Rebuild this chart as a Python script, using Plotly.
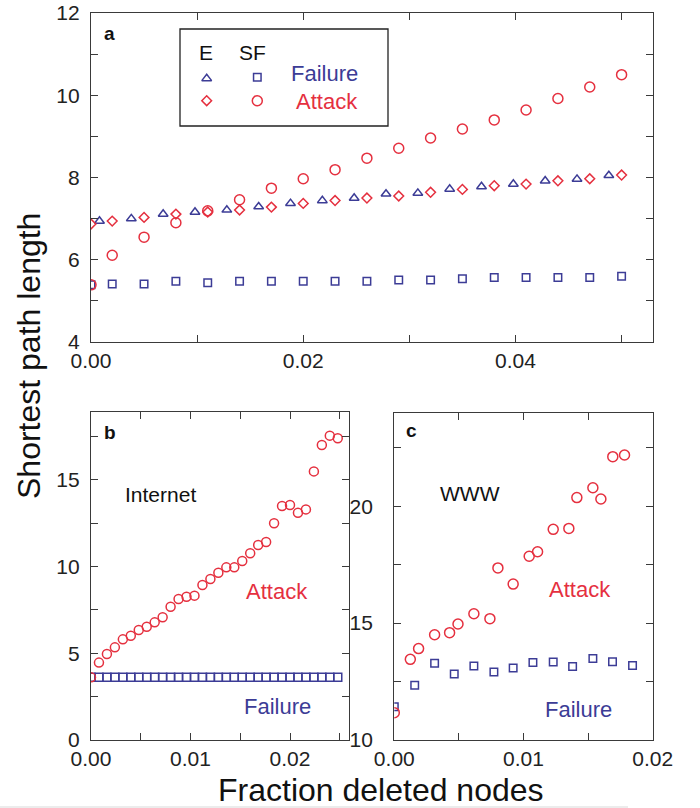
import plotly.graph_objects as go

W, H = 700, 808

# ---------------- data ----------------
# Panel a (E = exponential, SF = scale-free)
a_x = [0.000, 0.002, 0.005, 0.008, 0.011, 0.014, 0.017, 0.020, 0.023,
       0.026, 0.029, 0.032, 0.035, 0.038, 0.041, 0.044, 0.047, 0.050]
a_sf_failure = [5.39, 5.41, 5.41, 5.48, 5.44, 5.48, 5.48, 5.48, 5.48,
                5.48, 5.51, 5.51, 5.54, 5.57, 5.57, 5.57, 5.57, 5.60]
a_sf_attack = [5.39, 6.11, 6.55, 6.90, 7.19, 7.46, 7.74, 7.97, 8.19,
               8.47, 8.71, 8.96, 9.18, 9.40, 9.64, 9.92, 10.20, 10.50]
a_e_attack = [6.87, 6.94, 7.03, 7.11, 7.16, 7.21, 7.28, 7.37, 7.44,
              7.50, 7.55, 7.64, 7.71, 7.80, 7.84, 7.92, 7.97, 8.06]
a_e_fail_x = [0.0008, 0.0038, 0.0068, 0.0098, 0.0128, 0.0158, 0.0188, 0.0218, 0.0248,
              0.0278, 0.0308, 0.0338, 0.0368, 0.0398, 0.0428, 0.0458, 0.0488]
a_e_failure = [6.94, 7.00, 7.11, 7.16, 7.21, 7.29, 7.37, 7.44, 7.50,
               7.60, 7.62, 7.72, 7.78, 7.84, 7.92, 7.96, 8.05]

# Panel b (Internet)
b_x = [0.0000, 0.0008, 0.0016, 0.0024, 0.0032, 0.0040, 0.0048, 0.0056,
       0.0064, 0.0072, 0.0080, 0.0088, 0.0096, 0.0104, 0.0112, 0.0120,
       0.0128, 0.0136, 0.0144, 0.0152, 0.0160, 0.0168, 0.0176, 0.0184,
       0.0192, 0.0200, 0.0208, 0.0216, 0.0224, 0.0232, 0.0240, 0.0248]
b_attack = [3.61, 4.46, 4.96, 5.34, 5.80, 6.01, 6.34, 6.53,
            6.78, 7.07, 7.68, 8.13, 8.26, 8.32, 8.93, 9.28,
            9.64, 9.95, 9.95, 10.32, 10.76, 11.24, 11.41, 12.49,
            13.49, 13.54, 13.10, 13.29, 15.48, 17.00, 17.54, 17.39]
b_failure = [3.61, 3.61, 3.61, 3.61, 3.61, 3.61, 3.61, 3.61,
             3.61, 3.61, 3.61, 3.61, 3.61, 3.61, 3.61, 3.61,
             3.61, 3.61, 3.61, 3.61, 3.61, 3.61, 3.61, 3.61,
             3.61, 3.61, 3.61, 3.61, 3.61, 3.61, 3.61, 3.61]

# Panel c (WWW)
c_attack_x = [0.0000, 0.00124, 0.00188, 0.00312, 0.00428, 0.00493, 0.00616, 0.0074,
              0.00802, 0.0092, 0.01044, 0.01109, 0.0123, 0.01351, 0.01413, 0.01537,
              0.01599, 0.01691, 0.01782]
c_attack = [11.17, 13.45, 13.91, 14.50, 14.59, 14.96, 15.40, 15.19,
            17.36, 16.67, 17.86, 18.05, 19.01, 19.05, 20.37, 20.79,
            20.31, 22.12, 22.19]
c_failure_x = [0.0000, 0.00158, 0.00312, 0.00464, 0.00616, 0.00771, 0.0092,
               0.01073, 0.0123, 0.0138, 0.01537, 0.01689, 0.01844]
c_failure = [11.42, 12.34, 13.28, 12.82, 13.17, 12.91, 13.08,
             13.31, 13.34, 13.14, 13.49, 13.35, 13.19]

# tick labels
a_xticks = [0.00, 0.01, 0.02, 0.03, 0.04, 0.05]
a_xticktext = ["0.00", "", "0.02", "", "0.04", ""]
a_yticks = [4, 5, 6, 7, 8, 9, 10, 11, 12]
a_yticktext = ["4", "", "6", "", "8", "", "10", "", "12"]
b_xticks = [0.000, 0.005, 0.010, 0.015, 0.020, 0.025]
b_xticktext = ["0.00", "", "0.01", "", "0.02", ""]
b_yticks = [0, 2.5, 5, 7.5, 10, 12.5, 15, 17.5]
b_yticktext = ["0", "", "5", "", "10", "", "15", ""]
c_xticks = [0.000, 0.005, 0.010, 0.015, 0.020]
c_xticktext = ["0.00", "", "0.01", "", "0.02"]
c_yticks = [10, 12.5, 15, 17.5, 20, 22.5]
c_yticktext = ["10", "", "15", "", "20", ""]

# ---------------- style ----------------
RED = "#e5303f"
BLUE = "#3c3c96"
FONT = "Liberation Sans, Arial, Helvetica, sans-serif"
AXC = "#3a3a3a"


def px(x):
    return x / W


def py(y):
    return 1 - y / H


def mk(symbol, size, color):
    return dict(symbol=symbol, size=size, color=color,
                line=dict(color=color, width=1.5))


fig = go.Figure()

# panel a
fig.add_trace(go.Scatter(x=a_x, y=a_sf_failure, mode="markers", marker=mk("square-open", 7.5, BLUE), xaxis="x", yaxis="y"))
fig.add_trace(go.Scatter(x=a_e_fail_x, y=a_e_failure, mode="markers", marker=mk("triangle-up-open", 8.5, BLUE), xaxis="x", yaxis="y"))
fig.add_trace(go.Scatter(x=a_x, y=a_e_attack, mode="markers", marker=mk("diamond-open", 7.5, RED), xaxis="x", yaxis="y"))
fig.add_trace(go.Scatter(x=a_x, y=a_sf_attack, mode="markers", marker=mk("circle-open", 10, RED), xaxis="x", yaxis="y"))

# panel b
fig.add_trace(go.Scatter(x=b_x, y=b_failure, mode="markers", marker=mk("square-open", 8, BLUE), xaxis="x2", yaxis="y2"))
fig.add_trace(go.Scatter(x=b_x, y=b_attack, mode="markers", marker=mk("circle-open", 9, RED), xaxis="x2", yaxis="y2"))

# panel c
fig.add_trace(go.Scatter(x=c_failure_x, y=c_failure, mode="markers", marker=mk("square-open", 7.5, BLUE), xaxis="x3", yaxis="y3"))
fig.add_trace(go.Scatter(x=c_attack_x, y=c_attack, mode="markers", marker=mk("circle-open", 10, RED), xaxis="x3", yaxis="y3"))

# legend key symbols in panel a (overlay axis in pixel space)
leg_sym = [("triangle-up-open", 8.5, BLUE, 206.7, 78.5),
           ("square-open", 7.5, BLUE, 257.3, 77.3),
           ("diamond-open", 7.5, RED, 206.7, 100.7),
           ("circle-open", 10, RED, 257.3, 100.7)]
for sym, sz, col, lx, ly in leg_sym:
    fig.add_trace(go.Scatter(x=[lx], y=[ly], mode="markers", marker=mk(sym, sz, col),
                             xaxis="x4", yaxis="y4"))


def axis_common(domain, rng, tickvals, ticktext, anchor, standoff):
    return dict(domain=domain, range=rng, tickmode="array", tickvals=tickvals,
                ticktext=ticktext, ticks="inside", ticklen=7, tickwidth=1.3,
                tickcolor=AXC, showline=True, linecolor=AXC, linewidth=1.3,
                mirror="ticks", showgrid=False, zeroline=False, anchor=anchor,
                automargin=False, ticklabeloverflow="allow",
                tickfont=dict(family=FONT, size=21, color="#222"),
                ticklabelstandoff=standoff)


layout = dict(
    template="none",
    width=W, height=H, margin=dict(l=0, r=0, t=0, b=0, pad=0), autosize=False,
    paper_bgcolor="white", plot_bgcolor="rgba(0,0,0,0)", showlegend=False,
    xaxis=axis_common([px(91), px(653)], [0, 0.05296], a_xticks, a_xticktext, "y", 0),
    yaxis=axis_common([py(342), py(13)], [4, 12], a_yticks, a_yticktext, "x", 6),
    xaxis2=axis_common([px(91), px(349)], [0, 0.02593], b_xticks, b_xticktext, "y2", 0),
    yaxis2=axis_common([py(740), py(411.7)], [0, 18.92], b_yticks, b_yticktext, "x2", 6),
    xaxis3=axis_common([px(394.3), px(652.7)], [0, 0.02], c_xticks, c_xticktext, "y3", 0),
    yaxis3=axis_common([py(740), py(412.7)], [10, 24], c_yticks, c_yticktext, "x3", 16),
    xaxis4=dict(domain=[0, 1], range=[0, W], visible=False, anchor="y4", fixedrange=True, automargin=False),
    yaxis4=dict(domain=[0, 1], range=[H, 0], visible=False, anchor="x4", fixedrange=True, automargin=False),
)
fig.update_layout(**layout)

shapes = [
    # legend frame in panel a
    dict(type="rect", xref="paper", yref="paper", x0=px(180), x1=px(388), y0=py(126), y1=py(29),
         line=dict(color="#222", width=1.3), fillcolor="rgba(0,0,0,0)"),
    # light strip at the bottom of the scan
    dict(type="rect", xref="paper", yref="paper", x0=0, x1=px(628), y0=0, y1=py(806),
         line=dict(width=0), fillcolor="#ececec"),
]
fig.update_layout(shapes=shapes)


def ann(text, x, y, size, color="#111", bold=False, angle=0):
    t = f"<b>{text}</b>" if bold else text
    return dict(text=t, x=px(x), y=py(y), xref="paper", yref="paper", showarrow=False,
                xanchor="center", yanchor="middle", textangle=angle,
                font=dict(family=FONT, size=size, color=color))


annotations = [
    ann("a", 109, 33, 19, "#111", True),
    ann("b", 110, 432, 19, "#111", True),
    ann("c", 412, 430, 19, "#111", True),
    ann("E", 206, 52, 21),
    ann("SF", 252, 52, 21),
    ann("Failure", 324, 74, 22, BLUE),
    ann("Attack", 327, 101, 22, RED),
    ann("Internet", 160, 494, 21),
    ann("Attack", 277, 591, 22, RED),
    ann("Failure", 277, 706, 22, BLUE),
    ann("WWW", 470, 493, 21),
    ann("Attack", 580, 589, 22, RED),
    ann("Failure", 578, 709, 22, BLUE),
    ann("Shortest path length", 29, 356, 32, "#111", False, -90),
    ann("Fraction deleted nodes", 381, 790, 32),
]
fig.update_layout(annotations=annotations)

# remove the browser's default 8px page margin so the figure fills the window
fig.write_html("out.html", config={"displayModeBar": False},
               post_script="document.body.style.margin='0px';")
